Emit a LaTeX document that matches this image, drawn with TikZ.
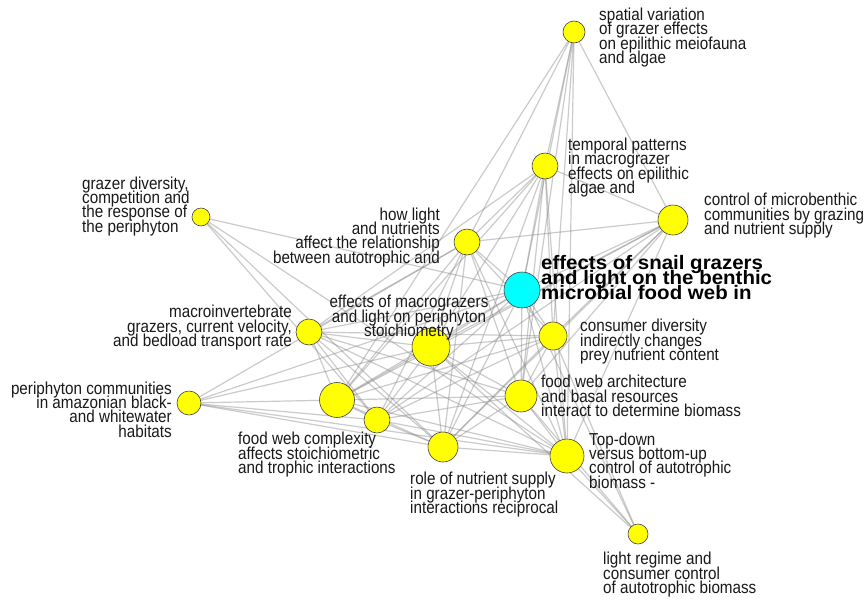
\documentclass[tikz,border=0pt]{standalone}
\usepackage{fontspec}
\newfontfamily\labfont[FakeStretch=0.88]{Liberation Sans}
\newfontfamily\labboldfont[FakeStretch=1.05]{Liberation Sans}
\usetikzlibrary{backgrounds}
\definecolor{nodeyellow}{RGB}{255,255,0}
\definecolor{nodecyan}{RGB}{0,255,255}
\newcommand{\labtext}{\labfont\fontsize{17.3}{14.3}\selectfont\lineskiplimit=-100pt\relax}
\newcommand{\labbold}{\labboldfont\bfseries\fontsize{19.5}{15.2}\selectfont\lineskiplimit=-100pt\relax}
\begin{document}
\begin{tikzpicture}[x=1pt,y=-1pt,
  gn/.style={circle,draw=black!75,line width=0.6pt,fill=nodeyellow,inner sep=0pt,minimum size=#1},
  cn/.style={circle,draw=black!75,line width=0.6pt,fill=nodecyan,inner sep=0pt,minimum size=#1},
  lbl/.style={inner sep=0pt,text=black!90,font=\labtext},
  lblb/.style={inner sep=0pt,text=black,font=\labbold},
  edge/.style={draw=black!45,line width=1.2pt,opacity=0.45}]
\useasboundingbox (0,0) rectangle (866,600);
% nodes
\node[gn=22] (sp) at (574,32) {};
\node[gn=26] (tp) at (545,166) {};
\node[gn=30] (cm) at (673,220) {};
\node[gn=18] (gd) at (201,217) {};
\node[gn=26] (hl) at (467,242) {};
\node[cn=36] (es) at (522,290) {};
\node[gn=26] (mi) at (309,332) {};
\node[gn=38] (em) at (431,347) {};
\node[gn=28] (cd) at (553,336) {};
\node[gn=24] (pc) at (189,403) {};
\node[gn=35] (bn) at (337,400) {};
\node[gn=26] (fc) at (377,420) {};
\node[gn=30] (rn) at (443,447) {};
\node[gn=32] (fwa) at (521,396) {};
\node[gn=34] (td) at (567,456) {};
\node[gn=20] (lr) at (638,534) {};
% edges
\begin{scope}[on background layer]
\fill[white] (0,0) rectangle (866,600);
\foreach \a/\b in {sp/tp,sp/cm,sp/bn,sp/es,sp/cd,sp/fwa,sp/td,sp/hl,
  tp/cm,tp/hl,tp/es,tp/em,tp/cd,tp/fwa,tp/td,tp/rn,tp/bn,tp/mi,
  cm/hl,cm/es,cm/em,cm/cd,cm/fwa,cm/td,cm/bn,cm/fc,cm/rn,
  gd/es,gd/fc,gd/rn,gd/td,
  hl/es,hl/em,hl/mi,hl/bn,hl/fc,hl/rn,hl/td,hl/fwa,hl/cd,hl/pc,
  es/em,es/mi,es/bn,es/fc,es/rn,es/td,es/fwa,es/cd,es/pc,
  mi/em,mi/bn,mi/fc,mi/rn,mi/td,mi/fwa,mi/cd,
  em/bn,em/fc,em/rn,em/td,em/fwa,em/cd,em/pc,
  cd/bn,cd/fc,cd/rn,cd/td,cd/fwa,
  pc/bn,pc/fc,pc/rn,pc/td,
  bn/fc,bn/rn,bn/td,bn/fwa,
  fc/rn,fc/td,fc/fwa,
  rn/td,rn/fwa,fwa/td,
  lr/td,lr/fwa,lr/cd,lr/es,lr/em}
  \draw[edge] (\a) -- (\b);
\end{scope}
% labels (anchor = baseline of the last line)
\node[lbl,anchor=base west,align=left] (t-sp) at (599,63.5) {spatial variation\\of grazer effects\\on epilithic meiofauna\\and algae};
\node[lbl,anchor=base west,align=left] (t-tp) at (568,193.5) {temporal patterns\\in macrograzer\\effects on epilithic\\algae and};
\node[lbl,anchor=base west,align=left] (t-cm) at (704,234.5) {control of microbenthic\\communities by grazing\\and nutrient supply};
\node[lbl,anchor=base west,align=left] (t-gd) at (82,232) {grazer diversity,\\competition and\\the response of\\the periphyton};
\node[lbl,anchor=base east,align=right] (t-hl) at (440,263) {how light\\and nutrients\\affect the relationship\\between autotrophic and};
\node[lblb,anchor=base west,align=left] (t-es) at (541,299.5) {effects of snail grazers\\and light on the benthic\\microbial food web in};
\node[lbl,anchor=base,align=center] (t-em) at (409,336.5) {effects of macrograzers\\and light on periphyton\\stoichiometry};
\node[lbl,anchor=base east,align=right] (t-mi) at (292,346.5) {macroinvertebrate\\grazers, current velocity,\\and bedload transport rate};
\node[lbl,anchor=base west,align=left] (t-cd) at (580,360.5) {consumer diversity\\indirectly changes\\prey nutrient content};
\node[lbl,anchor=base east,align=right] (t-pc) at (172,437) {periphyton communities\\in amazonian black-\\and whitewater\\habitats};
\node[lbl,anchor=base west,align=left] (t-fc) at (238,473.5) {food web complexity\\affects stoichiometric\\and trophic interactions};
\node[lbl,anchor=base west,align=left] (t-fwa) at (541,416.5) {food web architecture\\and basal resources\\interact to determine biomass};
\node[lbl,anchor=base west,align=left] (t-rn) at (410,513.5) {role of nutrient supply\\in grazer-periphyton\\interactions reciprocal};
\node[lbl,anchor=base west,align=left] (t-td) at (589,488) {Top-down\\versus bottom-up\\control of autotrophic\\biomass -};
\node[lbl,anchor=base west,align=left] (t-lr) at (603,593.5) {light regime and\\consumer control\\of autotrophic biomass};
\end{tikzpicture}
\end{document}
